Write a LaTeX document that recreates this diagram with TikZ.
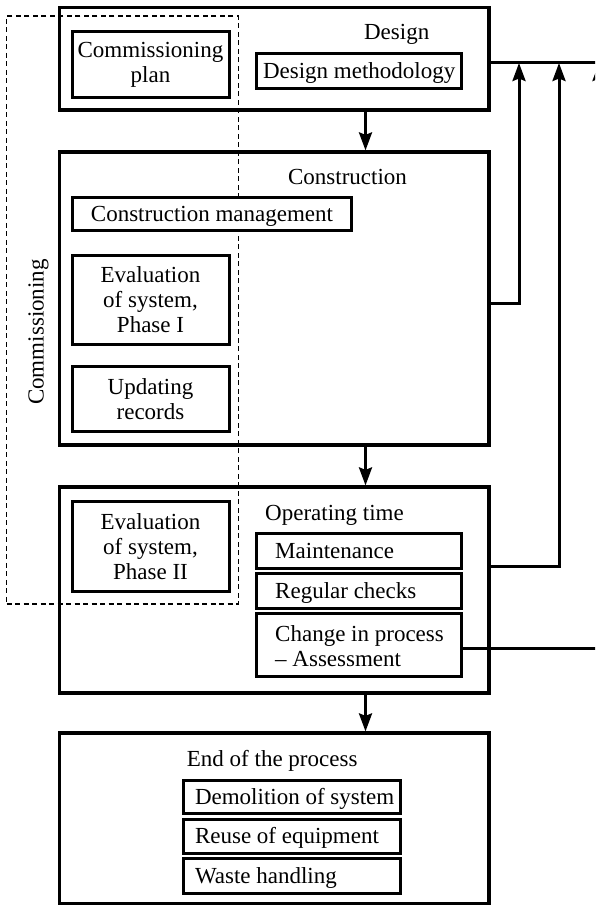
\documentclass[tikz,border=0pt]{standalone}
\usepackage{fontspec}
\setmainfont{Liberation Serif}
\usetikzlibrary{arrows.meta,fit}

\begin{document}
\begin{tikzpicture}[x=1pt,y=-1pt,
  every node/.style={font=\fontsize{23}{25}\selectfont},
  stage/.style={draw, line width=3.2pt, inner sep=0pt},
  item/.style={draw, line width=3pt, inner sep=0pt, fill=white, align=center},
  oneline/.style={text height=15pt, text depth=0pt},
  entry/.style={inner sep=0pt, align=left, anchor=west, xshift=#1},
  caption/.style={inner sep=0pt},
  zone/.style={draw, line width=1.1pt, dash pattern=on 5pt off 3.5pt, inner sep=0pt},
  flow/.style={line width=3pt, -{Stealth[length=18pt,width=13pt,inset=2.5pt]}},
  feed/.style={line width=3pt}
]
\useasboundingbox (0,0) rectangle (595,907);
\clip (0,0) rectangle (595,907);

% life-cycle stages
\node[stage, fit={(59.5,7.5) (489,110)}]   (design) {};
\node[stage, fit={(59.5,152) (489,445)}]   (constr) {};
\node[stage, fit={(59.5,487) (489,693)}]   (oper)   {};
\node[stage, fit={(59.5,733) (489,903.5)}] (finish) {};

% commissioning zone spanning the first three stages
\node[zone, fit={(6.7,16) (238.3,604)}] (comm) {};
\node[caption, rotate=90, anchor=base] (commlabel) at (43.6,332) {Commissioning};

% stage captions
\node[caption, anchor=base] (designlabel) at (396.7,40) {Design};
\node[caption, anchor=base] (constrlabel) at (347.5,184) {Construction};
\node[caption, anchor=base west] (operlabel) at (265,520) {Operating time};
\node[caption, anchor=base west] (finishlabel) at (186.7,766) {End of the process};

% design stage
\node[item, minimum width=157pt, minimum height=65pt] (cplan) at (150.5,64.5) {Commissioning\\plan};
\node[item, oneline, minimum width=205pt, minimum height=35pt] (dmeth) at (359.2,70.8) {Design methodology};

% construction stage
\node[item, oneline, minimum width=279pt, minimum height=32.5pt] (cmgmt) at (212,213.75) {Construction management};
\node[item, minimum width=157pt, minimum height=88.5pt] (eval1) at (150.5,299.75) {Evaluation\\of system,\\Phase I};
\node[item, minimum width=157pt, minimum height=65pt] (records) at (150.5,399.2) {Updating\\records};

% operating stage
\node[item, minimum width=157pt, minimum height=90pt] (eval2) at (150.5,546.7) {Evaluation\\of system,\\Phase II};
\node[item, minimum width=205pt, minimum height=35pt] (maint) at (359.2,550.8) {};
\node[item, minimum width=205pt, minimum height=35pt] (checks) at (359.2,590.8) {};
\node[item, minimum width=205pt, minimum height=63.4pt] (change) at (359.2,645) {};
\node[entry=19.8pt, oneline] (mainttext) at (maint.west) {Maintenance};
\node[entry=19.8pt, oneline] (checkstext) at (checks.west) {Regular checks};
\node[entry=19.8pt] (changetext) at ([yshift=-1pt]change.west) {Change in process\\-- Assessment};

% end of the process
\node[item, minimum width=216.7pt, minimum height=33.3pt] (demol) at (291.65,796.65) {};
\node[item, minimum width=216.7pt, minimum height=34pt] (reuse) at (291.65,836.3) {};
\node[item, minimum width=216.7pt, minimum height=35pt] (waste) at (291.65,875.8) {};
\node[entry=13pt, oneline] (demoltext) at (demol.west) {Demolition of system};
\node[entry=13pt, oneline] (reusetext) at (reuse.west) {Reuse of equipment};
\node[entry=13pt, oneline] (wastetext) at (waste.west) {Waste handling};

% main flow between stages
\coordinate (spine) at (365.5,0);
\draw[flow] (design.south -| spine) -- (constr.north -| spine);
\draw[flow] (constr.south -| spine) -- (oper.north -| spine);
\draw[flow] (oper.south -| spine) -- (finish.north -| spine);

% feedback to the design stage
\coordinate (bus) at (599,63);
\coordinate (up1) at (519,303);
\coordinate (up2) at (559,566);
\coordinate (up3) at (599,648);
\draw[feed] (design.east |- bus) -- (bus);
\draw[flow] (constr.east |- up1) -| (up1 |- bus);
\draw[flow] (oper.east |- up2) -| (up2 |- bus);
\draw[flow] (change.east |- up3) -| (bus);
\end{tikzpicture}
\end{document}
